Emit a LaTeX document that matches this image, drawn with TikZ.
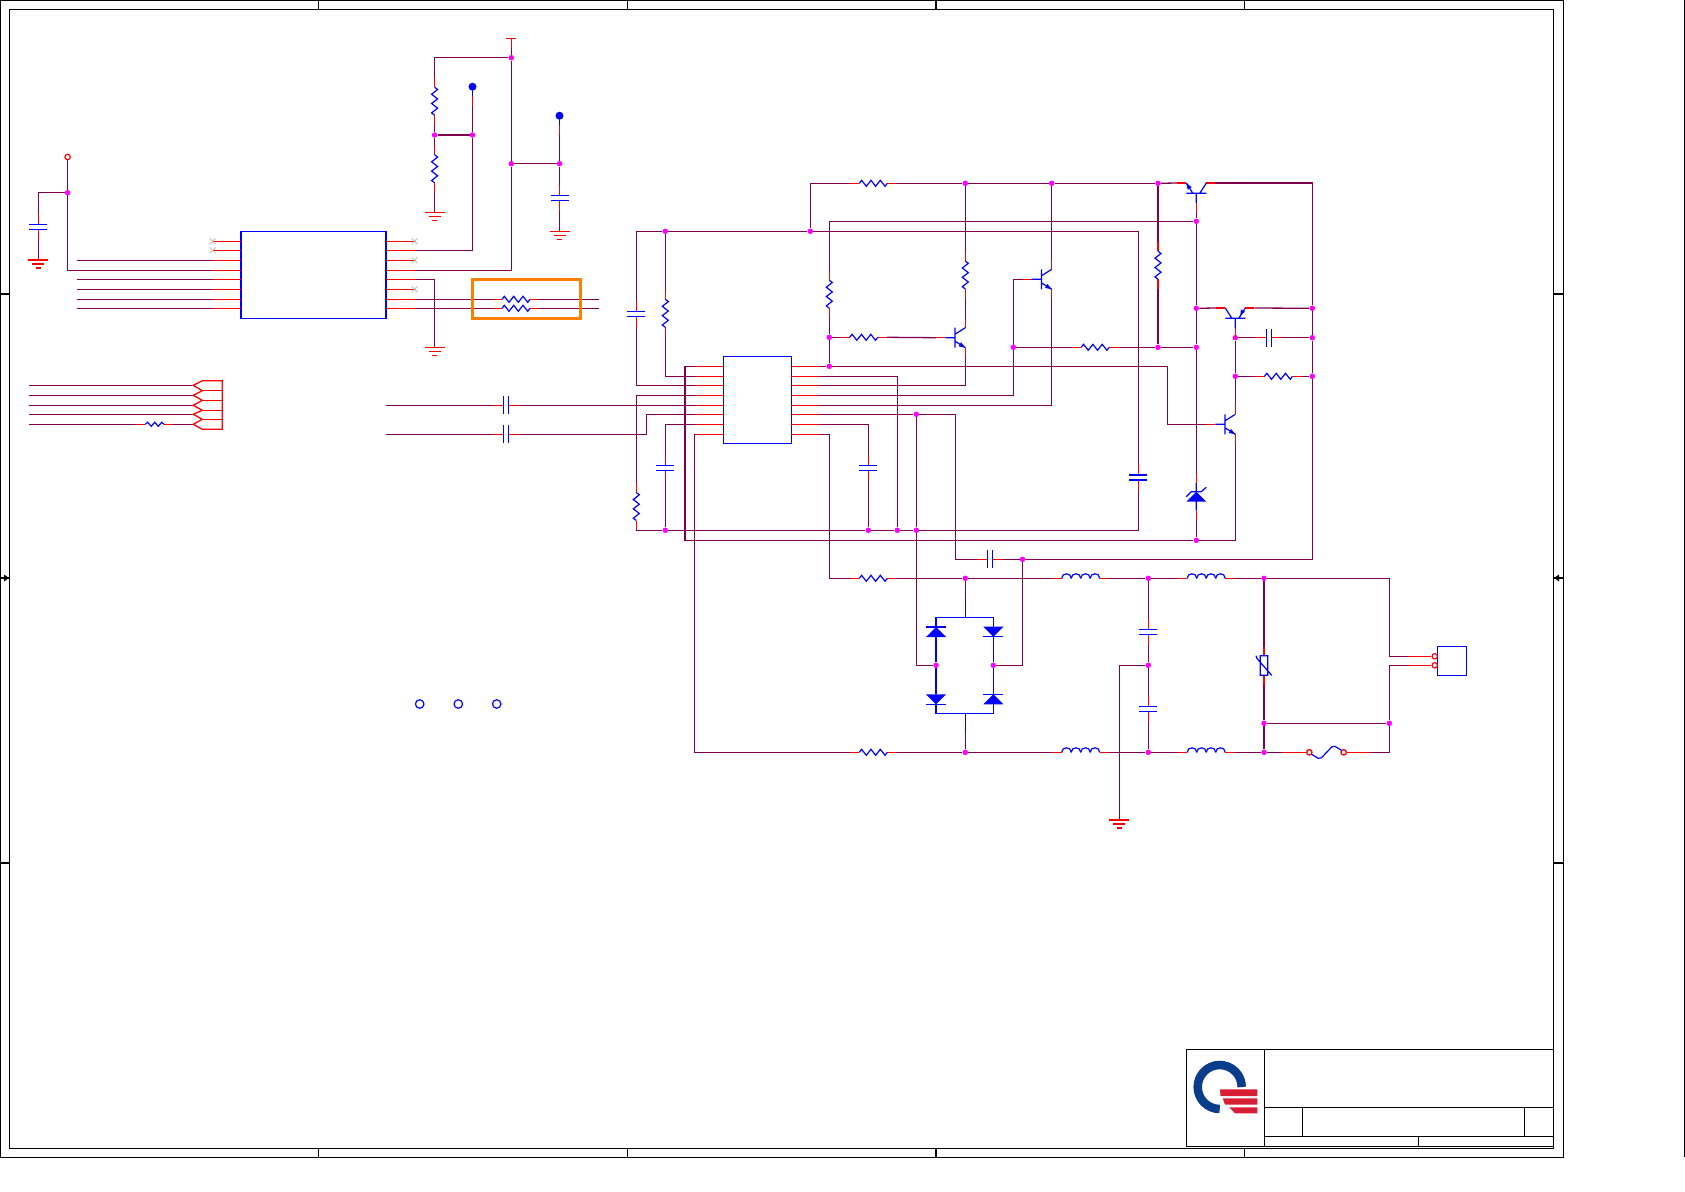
\documentclass[tikz,border=0pt]{standalone}
\usepackage{xcolor}
\usetikzlibrary{shapes.misc,backgrounds}
\definecolor{wirecol}{RGB}{128,0,80}
\definecolor{dotcol}{RGB}{255,0,255}
\definecolor{nccol}{RGB}{205,185,165}
\definecolor{logoblue}{RGB}{10,60,140}
\definecolor{logored}{RGB}{215,30,50}
\tikzset{
  wire line/.style={draw=wirecol,line width=1.3pt},
  stub line/.style={draw=red,line width=1.3pt},
  part line/.style={draw=blue,line width=1.2pt},
  frame line/.style={draw=black,line width=1.2pt},
  pics/hres/.style={code={
    \draw[stub line] (-23.3,0) coordinate (-a) -- (-14,0) (14,0) -- (23.3,0) coordinate (-b);
    \draw[part line] (-14,0) -- (-11.7,-3) -- (-7,3) -- (-2.3,-3) -- (2.3,3) -- (7,-3) -- (11.7,3) -- (14,0);
  }},
  pics/sres/.style={code={
    \draw[stub line] (-18.6,0) coordinate (-a) -- (-9.3,0) (9.3,0) -- (18.6,0) coordinate (-b);
    \draw[part line] (-9.3,0) -- (-7,-2) -- (-3.5,2) -- (0,-2) -- (3.5,2) -- (7,-2) -- (9.3,0);
  }},
  pics/cap/.style={code={
    \draw[stub line] (-13,0) coordinate (-a) -- (-2.5,0) (2.5,0) -- (13,0) coordinate (-b);
    \draw[part line] (-2.5,-9) -- (-2.5,9) (2.5,-9) -- (2.5,9);
  }},
  pics/ind/.style={code={
    \draw[stub line] (-28.5,0) coordinate (-a) -- (-19,0) (19,0) -- (28.5,0) coordinate (-b);
    \foreach \s in {-19,-9.5,0,9.5}
      \draw[part line] (\s,0) .. controls (\s,-6) and (\s+9.5,-6) .. (\s+9.5,0);
  }},
  pics/npn/.style={code={
    \draw[stub line] (-19,0) coordinate (-b) -- (-9.7,0) (10.3,-19) coordinate (-c) -- (10.3,-10) (10.3,10) -- (10.3,19) coordinate (-e);
    \draw[part line] (-9.7,0) -- (0,0) (0,-10) -- (0,10) (0,-3.5) -- (10.3,-10) (0,3.5) -- (10.3,10);
    \fill[blue] (10.3,10) -- (3.6,8.6) -- (6,4.6) -- cycle;
  }},
  pics/pnp/.style={code={
    \draw[stub line] (-19,0) coordinate (-b) -- (-9.7,0) (10.3,-19) coordinate (-c) -- (10.3,-10) (10.3,10) -- (10.3,19) coordinate (-e);
    \draw[part line] (-9.7,0) -- (0,0) (0,-10) -- (0,10) (0,-3.5) -- (10.3,-10) (0,3.5) -- (10.3,10);
    \fill[blue] (2.5,5) -- (9,5.6) -- (6.6,9.6) -- cycle;
  }},
  pics/diode/.style={code={
    \fill[blue] (0,-5) -- (-10,5) -- (10,5) -- cycle;
    \draw[part line] (-10,-5) -- (10,-5);
    \coordinate (-a) at (0,-5);
    \coordinate (-b) at (0,5);
  }},
  pics/zener/.style={code={
    \fill[blue] (0,-5) -- (-10,5) -- (10,5) -- cycle;
    \draw[part line] (-10,0) -- (-5,-5) -- (5,-5) -- (10,-9.5) (0,-14) -- (0,14);
    \draw[stub line] (0,-14) -- (0,-23) coordinate (-a) (0,14) -- (0,23) coordinate (-b);
  }},
  pics/gnd/.style={code={
    \coordinate (-a) at (0,0);
    \draw[stub line] (-10,0) -- (10,0) (-6,4) -- (6,4) (-2.5,8) -- (2.5,8);
  }},
  pics/ball/.style={code={
    \fill[blue] (0,0) circle [radius=4pt];
    \draw[part line] (0,0) -- (0,9.5);
    \draw[stub line] (0,9.5) -- (0,19) coordinate (-a);
  }},
  pics/tee/.style={code={
    \draw[stub line] (-5,0) -- (5,0) (0,0) -- (0,10) coordinate (-a);
  }},
  pics/varistor/.style={code={
    \draw[stub line] (0,-19) coordinate (-a) -- (0,-9.8) (0,9.8) -- (0,19) coordinate (-b);
    \draw[part line] (-3.8,-9.8) rectangle (3.8,9.8) (-8,-9.8) -- (-7,-7) -- (7.7,9.8);
  }},
  pics/fuse/.style={code={
    \draw[stub line] (-43.2,0) coordinate (-a) -- (-19.9,0) (19.9,0) -- (43.5,0) coordinate (-b);
    \draw[stub line] (-17.2,0) circle [radius=2.7pt] (17.2,0) circle [radius=2.7pt];
    \draw[part line,rounded corners=2pt] (-15.2,1.8) -- (-6.5,7) -- (6.8,-7) -- (15.2,-1.8);
  }}
}

\begin{document}
\begin{tikzpicture}[x=1pt,y=-1pt,
    dot node/.style={circle,fill=dotcol,inner sep=0pt,minimum size=5.5pt},
    chip node/.style={rectangle,draw=blue,line width=1.2pt,inner sep=0pt},
    hole node/.style={circle,draw=blue,line width=1.2pt,inner sep=0pt,minimum size=8.5pt},
    ring node/.style={circle,draw=red,line width=1.2pt,inner sep=0pt,minimum size=5.4pt},
    nc node/.style={cross out,draw=nccol,line width=0.8pt,inner sep=0pt,minimum size=5pt}]
    \useasboundingbox (0,0) rectangle (1685,1191);
    % sheet frame
    \draw[frame line] (0.7,0.7) rectangle (1563.3,1157.3);
    \draw[frame line] (9.3,9.3) rectangle (1553.3,1148.3);
    \draw[frame line] (1684.2,0) -- (1684.2,1157);
    \foreach \x in {318.7,627.6,936,1244.3}
      \draw[frame line] (\x,0.7) -- (\x,9.3) (\x,1148.3) -- (\x,1157.3);
    \foreach \y in {294,863}
      \draw[frame line] (0.7,\y) -- (9.3,\y) (1553.3,\y) -- (1563.3,\y);
    \draw[frame line] (0.7,578) -- (9.3,578) (1553.3,578) -- (1563.3,578);
    \fill (4,574.5) -- (9,578) -- (4,581.5) -- cycle;
    \fill (1559,574.5) -- (1554,578) -- (1559,581.5) -- cycle;
    % title block
    \draw[frame line] (1186.3,1049.3) rectangle (1553.3,1146.7);
    \draw[frame line] (1264.7,1049.3) -- (1264.7,1146.7) (1264.7,1107.3) -- (1553.3,1107.3) (1264.7,1136.3) -- (1553.3,1136.3);
    \draw[frame line] (1302.3,1107.3) -- (1302.3,1136.3) (1524.3,1107.3) -- (1524.3,1136.3) (1418.3,1136.3) -- (1418.3,1146.7);
    \draw[logoblue,line width=8.5pt] (1241.7,1087) arc [start angle=0,end angle=270,radius=22pt];
    \fill[logored] (1220,1089.3) -- (1257.3,1089.3) -- (1257.3,1096) -- (1220.5,1096) -- cycle;
    \fill[logored] (1222.7,1098.3) -- (1257.3,1098.3) -- (1257.3,1104.7) -- (1225,1104.7) -- cycle;
    \fill[logored] (1229.3,1107.3) -- (1257.3,1107.3) -- (1257.3,1113.3) -- (1235,1113.3) -- cycle;
    % nodes: first chip and its surroundings
    \node[chip node,minimum width=145pt,minimum height=87pt] (u1) at (313.5,274.8) {};
    \foreach \k/\y in {1/241.3,2/250.3,3/260.3,4/270.3,5/279.3,6/289.3,7/299.3,8/308.3} {
      \coordinate (u1a\k) at (241,\y);
      \coordinate (u1c\k) at (212.7,\y);
      \coordinate (u1b\k) at (386,\y);
      \coordinate (u1d\k) at (414.5,\y);
      \coordinate (u1w\k) at (77,\y);
      \draw[stub line] (u1a\k) -- (u1c\k) (u1b\k) -- (u1d\k);
    }
    \foreach \n/\x/\y in {n1/212.7/241.3,n2/212.7/250.3,n3/414.5/241.3,n4/414.5/260.3,n5/414.5/289.3}
      \node[nc node] (\n) at (\x,\y) {};
    \node[ring node] (vcc) at (67.6,157) {};
    \node[dot node] (jv) at (67.6,192.7) {};
    \pic (c0) [rotate=-90] at (38.4,227) {cap};
    \pic (g1) at (38.4,260) {gnd};
    \pic (tee1) at (511.3,38.3) {tee};
    \node[dot node] (ja) at (434.6,135) {};
    \node[dot node] (jb) at (472.5,135) {};
    \node[dot node] (jc) at (511.3,57.7) {};
    \node[dot node] (jd) at (511.3,163.7) {};
    \node[dot node] (je) at (559.5,163.7) {};
    \pic (r1) [rotate=-90] at (434.6,101.2) {hres};
    \pic (r2) [rotate=-90] at (434.6,168.8) {hres};
    \pic (g2) at (434.6,212.3) {gnd};
    \pic (b1) at (472.5,86.7) {ball};
    \pic (b2) at (559.5,115.7) {ball};
    \pic (c5) [rotate=-90] at (559.5,197.8) {cap};
    \pic (g3) at (559.5,231.3) {gnd};
    \pic (g4) at (434.6,347.3) {gnd};
    \pic (r20) at (516,299.3) {hres};
    \pic (r21) at (516,308.3) {hres};
    \coordinate (e20) at (599,299.3);
    \coordinate (e21) at (599,308.3);
    \node[rectangle,draw={rgb,255:red,255;green,128;blue,0},line width=3pt,inner sep=0pt,minimum width=108pt,minimum height=39.7pt] (hl) at (526,298.9) {};
    % nodes: header at the left
    \foreach \k/\y in {1/385.3,2/395.3,3/405.3,4/414.3,5/424.3} {
      \coordinate (cw\k) at (29,\y);
      \coordinate (ct\k) at (193.3,\y);
    }
    \draw[stub line] (222.3,380.7) -- (202.3,380.7) -- (193.3,385.3) -- (202.3,390.7) -- (193.3,395.3) -- (202.3,400.3) -- (193.3,405.3) -- (202.3,410.3) -- (193.3,414.3) -- (202.3,419.3) -- (193.3,424.3) -- (202.3,429.3) -- (222.3,429.3) -- cycle;
    \foreach \y in {390.7,400.3,410.3,419.3}
      \draw[stub line] (202.3,\y) -- (222.3,\y);
    \pic (r22) at (154.7,424.3) {sres};
    \pic (c1) at (505.7,405.3) {cap};
    \pic (c2) at (505.7,434.3) {cap};
    \coordinate (s1) at (386,405.3);
    \coordinate (s2) at (386,434.3);
    \foreach \n/\x in {h1/419.7,h2/458.3,h3/496.7}
      \node[hole node] (\n) at (\x,704) {};
    % nodes: second chip
    \node[chip node,minimum width=67.6pt,minimum height=87pt] (u2) at (757.5,399.8) {};
    \foreach \k/\y in {1/366.3,2/376.3,3/385.3,4/395.3,5/405.3,6/414.3,7/424.3,8/434.3} {
      \coordinate (u2a\k) at (723.7,\y);
      \coordinate (u2c\k) at (696,\y);
      \coordinate (u2b\k) at (791.3,\y);
      \coordinate (u2d\k) at (820,\y);
      \draw[stub line] (u2a\k) -- (u2c\k) (u2b\k) -- (u2d\k);
    }
    \foreach \n/\x/\y in {k1/665.3/231.3,k2/810.3/231.3,k3/965.3/183.3,k4/1051.7/183.3,k5/1158/183.3,
        k6/1196.3/221.3,k7/829.3/337.3,k8/829.3/366.3,k9/1013.3/347.3,k10/1158/347.3,k11/1196.3/347.3,
        k12/1196.3/308.3,k13/1312.3/308.3,k14/1235.3/337.7,k15/1312.3/337.7,k16/1235.3/376.3,k17/1312.3/376.3,
        k18/1196.3/540.3,k19/916.3/414.3,k20/665.3/530.3,k21/868.3/530.3,k22/897.3/530.3,k23/916.3/530.3,
        k24/1022.5/559.3,m1/965.3/578.3,m2/936/665.3,m3/993.3/665.3,m4/1148.3/578.3,m5/1148.3/665.3,
        m6/965.3/752.3,m7/1148.3/752.3,m8/1264/578.3,m9/1264/723.3,m10/1264/752.3,m11/1389.3/723.3}
      \node[dot node] (\n) at (\x,\y) {};
    \pic (c3) [rotate=-90] at (636.3,313.6) {cap};
    \pic (r3) [rotate=-90] at (665.3,313.3) {hres};
    \pic (r4) [rotate=-90] at (636.3,506.5) {hres};
    \pic (c4) [rotate=-90] at (665.3,467.8) {cap};
    \pic (r5) [rotate=-90] at (829.3,294.2) {hres};
    \pic (r6) at (863.8,337.3) {hres};
    \pic (r7) at (873.3,183.3) {hres};
    \pic (r8) [rotate=-90] at (965.3,275) {hres};
    \pic (c6) [rotate=-90] at (868.3,467.8) {cap};
    \pic (c7) at (989.7,559.3) {cap};
    \pic (c8) [rotate=-90] at (1138.3,477.5) {cap};
    \pic (r9) [rotate=-90] at (1158,265.2) {hres};
    \pic (r10) at (1095.2,347.3) {hres};
    \pic (c9) at (1269,337.7) {cap};
    \pic (r11) at (1278.5,376.3) {hres};
    \pic (q1) at (955,337.7) {npn};
    \pic (q2) at (1041.4,279.3) {npn};
    \pic (q3) [rotate=90,yscale=-1] at (1196.3,193.3) {npn};
    \pic (q4) [rotate=90] at (1235.3,318.3) {pnp};
    \pic (q5) at (1225,424.3) {npn};
    \pic (z1) at (1196.3,496.7) {zener};
    % nodes: mains input
    \pic (r12) at (873.3,578.3) {hres};
    \pic (r13) at (873.3,752.3) {hres};
    \pic (l1) at (1080.7,578.3) {ind};
    \pic (l2) at (1206.2,578.3) {ind};
    \pic (l3) at (1080.7,752.3) {ind};
    \pic (l4) at (1206.2,752.3) {ind};
    \pic (d1) at (936,632) {diode};
    \pic (d2) [rotate=180] at (993.3,631.7) {diode};
    \pic (d3) [rotate=180] at (936,699.3) {diode};
    \pic (d4) at (993.3,699.3) {diode};
    \pic (c10) [rotate=-90] at (1148.3,632.3) {cap};
    \pic (c11) [rotate=-90] at (1148.3,709.3) {cap};
    \pic (g5) at (1119.3,820) {gnd};
    \pic (v1) at (1264,665.5) {varistor};
    \pic (f1) at (1326.5,752.3) {fuse};
    \node[chip node,minimum width=29.4pt,minimum height=29pt] (j1) at (1452,660.8) {};
    \node[ring node] (p1) at (1434.7,656.3) {};
    \node[ring node] (p2) at (1434.7,665.3) {};
    \coordinate (w1) at (1409,656.3);
    \coordinate (w2) at (1409,665.3);
    %edges
    \begin{scope}[on background layer]
      \path[stub line]
        (w1) edge (p1)
        (w2) edge (p2);
      \path[wire line]
        (vcc) edge (jv)
        (tee1-a) edge (jc)
        (jc) edge (jd)
        (r1-b) edge (ja)
        (ja) edge (r2-a)
        (ja) edge (jb)
        (r2-b) edge (g2-a)
        (b1-a) edge (jb)
        (b2-a) edge (je)
        (jd) edge (je)
        (je) edge (c5-a)
        (c5-b) edge (g3-a)
        (c0-b) edge (g1-a)
        (u1w3) edge (u1c3)
        (u1w5) edge (u1c5)
        (u1w6) edge (u1c6)
        (u1w7) edge (u1c7)
        (u1w8) edge (u1c8)
        (u1d7) edge (r20-a)
        (u1d8) edge (r21-a)
        (r20-b) edge (e20)
        (r21-b) edge (e21)
        (cw1) edge (ct1)
        (cw2) edge (ct2)
        (cw3) edge (ct3)
        (cw4) edge (ct4)
        (cw5) edge (r22-a)
        (r22-b) edge (ct5)
        (s1) edge (c1-a)
        (s2) edge (c2-a)
        (c1-b) edge (u2c5)
        (k1) edge (k2)
        (k7) edge (r5-b)
        (k7) edge (k8)
        (k7) edge (r6-a)
        (r6-b) edge (q1-b)
        (u2d1) edge (k8)
        (k3) edge (r8-a)
        (r8-b) edge (q1-c)
        (k4) edge (q2-c)
        (k3) edge (k4)
        (k4) edge (k5)
        (k5) edge (q3-e)
        (k5) edge (r9-a)
        (r9-b) edge (k10)
        (k9) edge (r10-a)
        (r10-b) edge (k10)
        (k10) edge (k11)
        (k6) edge (q3-b)
        (k6) edge (k12)
        (k12) edge (k11)
        (k11) edge (z1-a)
        (z1-b) edge (k18)
        (k12) edge (q4-c)
        (q4-e) edge (k13)
        (q4-b) edge (k14)
        (k14) edge (k16)
        (k16) edge (q5-c)
        (k14) edge (c9-a)
        (c9-b) edge (k15)
        (k16) edge (r11-a)
        (r11-b) edge (k17)
        (k13) edge (k15)
        (k15) edge (k17)
        (k20) edge (k21)
        (k21) edge (k22)
        (k22) edge (k23)
        (c4-b) edge (k20)
        (c6-b) edge (k21)
        (u2d6) edge (k19)
        (k19) edge (k23)
        (c7-b) edge (k24)
        (r12-b) edge (m1)
        (m1) edge (l1-a)
        (l1-b) edge (m4)
        (m4) edge (l2-a)
        (l2-b) edge (m8)
        (r13-b) edge (m6)
        (m6) edge (l3-a)
        (l3-b) edge (m7)
        (m7) edge (l4-a)
        (l4-b) edge (m10)
        (m4) edge (c10-a)
        (c10-b) edge (m5)
        (m5) edge (c11-a)
        (c11-b) edge (m7)
        (m8) edge (v1-a)
        (v1-b) edge (m9)
        (m9) edge (m10)
        (m9) edge (m11)
        (m10) edge (f1-a);
      \draw[wire line] (jv) -| (c0-a);
      \draw[wire line] (vcc) |- (u1c4);
      \draw[wire line] (u1d2) -| (jb);
      \draw[wire line] (u1d4) -| (jd);
      \draw[wire line] (jc) -| (r1-a);
      \draw[wire line] (u1d5) -| (g4-a);
      \draw[wire line] (u2c1) -- ++(-11,0) |- (k18);
      \draw[wire line] (u2c2) -| (r3-b);
      \draw[wire line] (k1) -- (r3-a);
      \draw[wire line] (u2c3) -| (c3-b);
      \draw[wire line] (c3-a) |- (k1);
      \draw[wire line] (u2c4) -| (r4-a);
      \draw[wire line] (r4-b) |- (k20);
      \draw[wire line] (u2c6) -- ++(-49.3,0) |- (c2-b);
      \draw[wire line] (u2c7) -| (c4-a);
      \draw[wire line] (u2c8) -- ++(-1.7,0) |- (r13-a);
      \draw[wire line] (k2) |- (r7-a);
      \draw[wire line] (r7-b) -- (k3);
      \draw[wire line] (k2) -- ++(328,0) |- (c8-a);
      \draw[wire line] (c8-b) |- (k23);
      \draw[wire line] (k6) -| (r5-a);
      \draw[wire line] (k8) -- ++(338,0) |- (q5-b);
      \draw[wire line] (u2d2) -| (k22);
      \draw[wire line] (u2d3) -| (q1-e);
      \draw[wire line] (u2d4) -- ++(193.3,0) |- (q2-b);
      \draw[wire line] (u2d5) -| (q2-e);
      \draw[wire line] (k19) -- ++(39,0) |- (c7-a);
      \draw[wire line] (u2d7) -| (c6-a);
      \draw[wire line] (u2d8) -- ++(9.7,0) |- (r12-a);
      \draw[wire line] (q3-c) -| (k13);
      \draw[wire line] (q5-e) |- (k18);
      \draw[wire line] (k24) -| (k17);
      \draw[wire line] (m2) -| (k23);
      \draw[wire line] (m3) -| (k24);
      \draw[wire line] (m5) -| (g5-a);
      \draw[wire line] (m8) -- ++(125.3,0) |- (w1);
      \draw[wire line] (f1-b) -| (m11);
      \draw[wire line] (m11) |- (w2);
    \end{scope}
    % bridge
    \draw[part line] (d1-a) -- ++(0,-9.7) -| (d2-b);
    \draw[part line] (d3-a) -- ++(0,9) -| (d4-b);
    \draw[part line] (d1-b) -- (m2);
    \draw[part line] (d2-a) -- (m3);
    \draw[part line] (d3-b) -- (m2);
    \draw[part line] (d4-a) -- (m3);
    \draw[part line] (965.3,598) -- (965.3,617.3);
    \draw[wire line] (m1) -- (965.3,598);
    \draw[part line] (965.3,713.3) -- (965.3,733);
    \draw[wire line] (965.3,733) -- (m6);
\end{tikzpicture}
\end{document}
